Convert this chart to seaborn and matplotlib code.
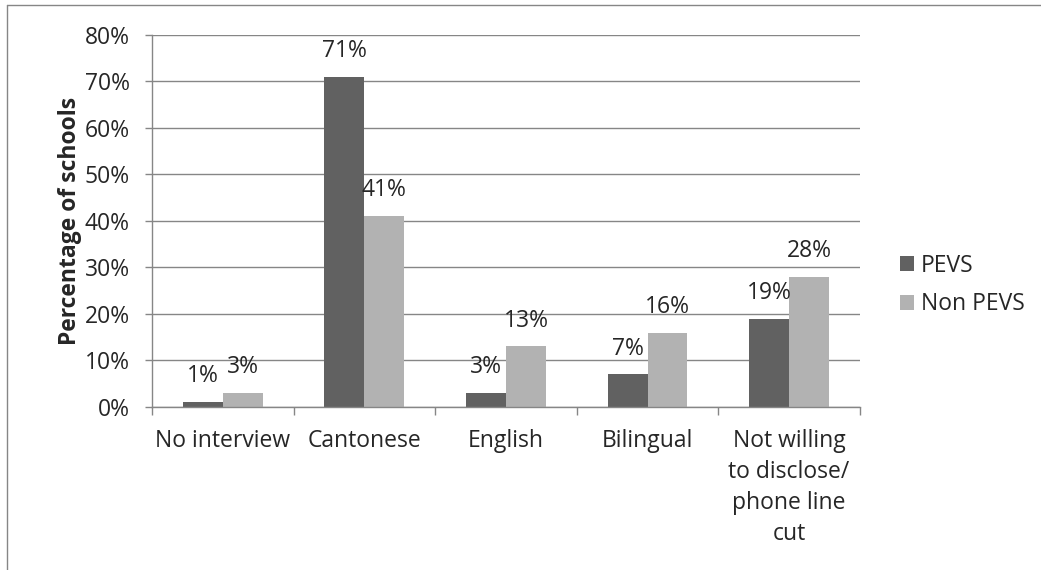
import matplotlib
matplotlib.use("Agg")
import matplotlib.pyplot as plt
import seaborn as sns
import pandas as pd
from matplotlib.lines import Line2D
from matplotlib.patches import Patch

categories = ["No interview", "Cantonese", "English", "Bilingual",
              "Not willing\nto disclose/\nphone line\ncut"]
series = ["PEVS", "Non PEVS"]
pevs = [1, 71, 3, 7, 19]
non_pevs = [3, 41, 13, 16, 28]
yticks = [0, 10, 20, 30, 40, 50, 60, 70, 80]
colors = ["#616161", "#b2b2b2"]

sns.set_theme(style="white")
plt.rcParams['font.family'] = ['Open Sans', 'DejaVu Sans']
FS = 16.5

df = pd.DataFrame({
    "cat": categories * 2,
    "series": [series[0]] * len(categories) + [series[1]] * len(categories),
    "val": pevs + non_pevs,
})

fig = plt.figure(figsize=(10.41, 5.70), dpi=100)
ax = fig.add_axes([0.146, 0.286, 0.680, 0.653])
sns.barplot(data=df, x="cat", y="val", hue="series", hue_order=series,
            palette=colors, width=0.565, ax=ax, legend=False,
            saturation=1, linewidth=0)

ax.set_ylim(0, 80)
ax.set_xlim(-0.5, len(categories) - 0.5)
ax.set_yticks(yticks)
ax.set_yticklabels([f"{v}%" for v in yticks], fontsize=FS)
ax.yaxis.grid(True, color="#868686", linewidth=1)
ax.set_axisbelow(True)
for s in ["top", "right"]:
    ax.spines[s].set_visible(False)
for s in ["left", "bottom"]:
    ax.spines[s].set_color("#868686")
    ax.spines[s].set_linewidth(1)
ax.set_xlabel("")
ax.set_ylabel("Percentage of schools", fontsize=FS, fontweight="bold", labelpad=2)
ax.set_xticks(range(len(categories)))
ax.set_xticklabels(categories, fontsize=FS, linespacing=1.38, va="top")
ax.tick_params(axis="x", which="major", bottom=False, length=0, pad=16)
ax.tick_params(axis="y", left=True, length=5, width=1, color="#868686", pad=11)
# minor ticks at category boundaries
ax.set_xticks([i - 0.5 for i in range(len(categories) + 1)], minor=True)
ax.tick_params(axis="x", which="minor", bottom=True, length=6, width=1,
               color="#868686", direction="out")

for cont in ax.containers:
    ax.bar_label(cont, labels=[f"{v:.0f}%" for v in cont.datavalues],
                 fontsize=FS, padding=10)

handles = [Patch(facecolor=c, edgecolor="none") for c in colors]
fig.legend(handles, series, loc="center left", bbox_to_anchor=(0.845, 0.5),
           frameon=False, fontsize=FS, handlelength=0.6, handleheight=0.6,
           handletextpad=0.3, labelspacing=0.65)

# outer chart frame (top and left edges visible)
fig.add_artist(Line2D([0.0067, 1.0], [0.991, 0.991], transform=fig.transFigure,
                      color="#868686", linewidth=1))
fig.add_artist(Line2D([0.0067, 0.0067], [0.0, 0.991], transform=fig.transFigure,
                      color="#868686", linewidth=1))

fig.savefig("out.png", dpi=100)
